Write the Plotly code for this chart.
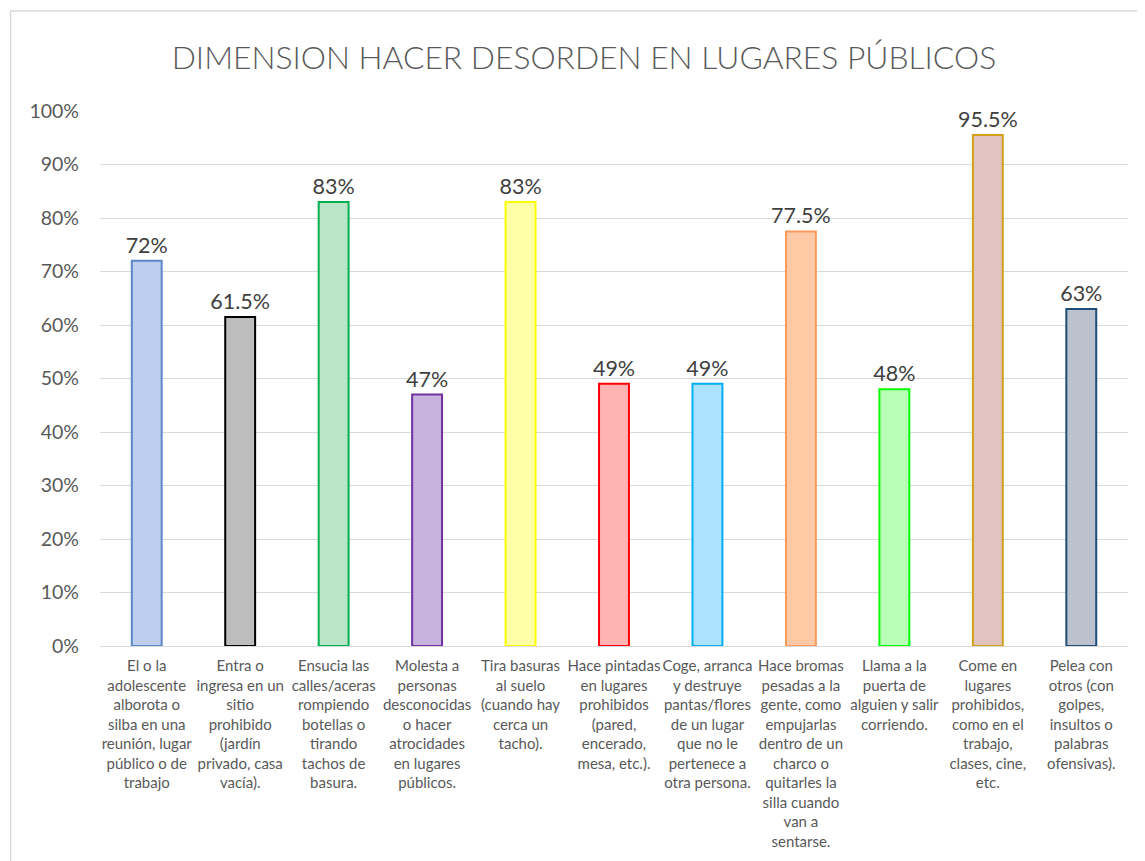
import plotly.graph_objects as go

# Survey result per behaviour (share of answers, %)
categories = [
    "El o la<br>adolescente<br>alborota o<br>silba en una<br>reunión, lugar<br>público o de<br>trabajo",
    "Entra o<br>ingresa en un<br>sitio<br>prohibido<br>(jardín<br>privado, casa<br>vacía).",
    "Ensucia las<br>calles/aceras<br>rompiendo<br>botellas o<br>tirando<br>tachos de<br>basura.",
    "Molesta a<br>personas<br>desconocidas<br>o hacer<br>atrocidades<br>en lugares<br>públicos.",
    "Tira basuras<br>al suelo<br>(cuando hay<br>cerca un<br>tacho).",
    "Hace pintadas<br>en lugares<br>prohibidos<br>(pared,<br>encerado,<br>mesa, etc.).",
    "Coge, arranca<br>y destruye<br>pantas/flores<br>de un lugar<br>que no le<br>pertenece a<br>otra persona.",
    "Hace bromas<br>pesadas a la<br>gente, como<br>empujarlas<br>dentro de un<br>charco o<br>quitarles la<br>silla cuando<br>van a<br>sentarse.",
    "Llama a la<br>puerta de<br>alguien y salir<br>corriendo.",
    "Come en<br>lugares<br>prohibidos,<br>como en el<br>trabajo,<br>clases, cine,<br>etc.",
    "Pelea con<br>otros (con<br>golpes,<br>insultos o<br>palabras<br>ofensivas).",
]
values = [72, 61.5, 83, 47, 83, 49, 49, 77.5, 48, 95.5, 63]
value_labels = [f"{v:g}%" for v in values]

y_ticks = [0, 10, 20, 30, 40, 50, 60, 70, 80, 90, 100]
y_tick_labels = [f"{t}%" for t in y_ticks]

fill_colors = [
    "#bccdee", "#bdbdbd", "#b8e6c6", "#c6b4df", "#ffffa8", "#ffb3b3",
    "#ace2fc", "#ffc9a6", "#b8ffb8", "#e2c3bf", "#bcc1ce",
]
line_colors = [
    "#5b87c9", "#000000", "#00b050", "#7030a0", "#ffff00", "#ff0000",
    "#00b0f0", "#f79a5a", "#00ff00", "#d4a017", "#1f4e79",
]

fig = go.Figure(
    go.Bar(
        x=list(range(len(categories))),
        y=values,
        width=0.32,
        marker=dict(color=fill_colors, line=dict(color=line_colors, width=2)),
        text=value_labels,
        textposition="outside",
        constraintext="none",
        textfont=dict(family="Lato", size=21.5, color="#404040"),
        cliponaxis=False,
    )
)

# page body adds ~8px offset, so margins are shifted to compensate
fig.update_layout(
    width=1145,
    height=861,
    margin=dict(l=92, r=25, t=103, b=223),
    paper_bgcolor="white",
    plot_bgcolor="white",
    showlegend=False,
    title=dict(
        text="DIMENSION HACER DESORDEN EN LUGARES PÚBLICOS",
        x=0.503,
        xanchor="center",
        y=0.942,
        yanchor="middle",
        font=dict(family="Lato", size=31.8, color="#595959", weight=300),
    ),
    font=dict(family="Lato", color="#595959"),
)

fig.update_xaxes(
    tickmode="array",
    tickvals=list(range(len(categories))),
    ticktext=categories,
    range=[-0.5, len(categories) - 0.5],
    tickangle=0,
    tickfont=dict(family="Lato", size=15, color="#595959"),
    showline=True,
    linecolor="#d9d9d9",
    linewidth=1,
    ticks="",
    ticklabelstandoff=6,
    showgrid=False,
)
fig.update_yaxes(
    range=[0, 100],
    tickmode="array",
    tickvals=y_ticks,
    ticktext=y_tick_labels,
    tickfont=dict(family="Lato", size=19.5, color="#595959"),
    showgrid=True,
    gridcolor="#d9d9d9",
    gridwidth=1,
    zeroline=False,
    ticks="",
    ticklabelstandoff=20,
)

# outer chart border (light gray), partly off the page
fig.add_shape(
    type="rect", xref="paper", yref="paper",
    x0=-0.087, x1=1.1, y0=-0.5, y1=1.187,
    line=dict(color="#d9d9d9", width=1.5), fillcolor="rgba(0,0,0,0)",
    layer="below",
)

fig.write_html("out.html")
